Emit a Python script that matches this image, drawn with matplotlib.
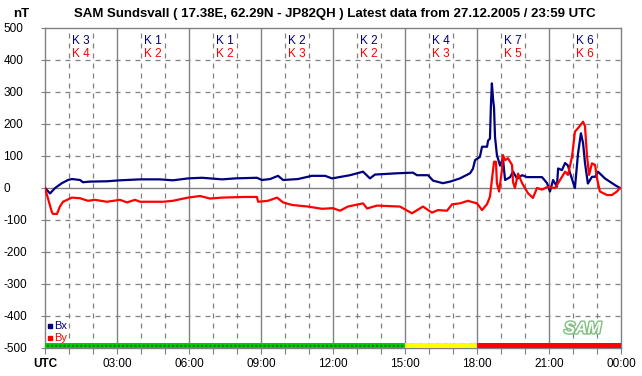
import matplotlib
matplotlib.use("Agg")
import matplotlib.pyplot as plt
import matplotlib.patheffects as pe
import numpy as np

plt.rcParams["font.family"] = "Liberation Sans"
plt.rcParams["axes.unicode_minus"] = False
plt.rcParams["hatch.linewidth"] = 1.0

# time in hours (UTC) and field values in nT
bx_t = [0.0, 0.21, 0.42, 0.70, 0.96, 1.12, 1.46, 1.58, 1.88, 2.58, 3.12, 3.96, 4.79, 5.33,
        5.96, 6.54, 7.38, 7.92, 8.83, 9.04, 9.38, 9.71, 9.92, 10.54, 11.12, 11.67, 11.96,
        12.71, 13.25, 13.54, 13.75, 14.67, 15.33, 15.5, 15.96, 16.17, 16.58, 16.88, 17.29,
        17.71, 17.83, 17.92, 18.12, 18.21, 18.42, 18.46, 18.54, 18.58, 18.62, 18.67, 18.71,
        18.75, 18.83, 18.96, 19.08, 19.17, 19.38, 19.5, 19.67, 19.88, 20.08, 20.71, 20.92,
        21.04, 21.17, 21.33, 21.38, 21.54, 21.67, 21.79, 21.88, 22.08, 22.21, 22.33, 22.42,
        22.5, 22.62, 22.79, 22.92, 23.04, 23.33, 23.75, 23.96]
bx_v = [0, -17, 0, 15, 25, 28, 25, 18, 20, 21, 24, 27, 27, 24,
        30, 32, 27, 30, 32, 25, 28, 38, 25, 28, 38, 38, 30,
        40, 51, 30, 42, 46, 48, 40, 40, 23, 15, 20, 30,
        46, 60, 87, 97, 129, 129, 148, 154, 259, 327, 277, 250,
        160, 103, 70, 93, 25, 34, 51, 29, 40, 34, 34, 15,
        -11, 25, 4, 61, 56, 78, 70, 46, 0, 108, 171, 140,
        78, 14, 35, 35, 51, 30, 9, 0]

by_t = [0.0, 0.28, 0.33, 0.5, 0.62, 0.75, 1.12, 1.46, 1.79, 2.08, 2.58, 3.12, 3.42, 3.75,
        3.96, 4.92, 5.33, 5.96, 6.46, 6.88, 7.38, 8.33, 8.83, 8.88, 9.29, 9.67, 9.92,
        10.29, 10.96, 11.54, 12.0, 12.29, 12.62, 13.25, 13.42, 13.83, 14.79, 15.29, 15.75,
        16.12, 16.38, 16.75, 16.96, 17.29, 17.62, 18.0, 18.21, 18.42, 18.54, 18.62, 18.71,
        18.79, 18.83, 18.92, 19.04, 19.08, 19.17, 19.29, 19.46, 19.5, 19.58, 19.71, 19.88,
        20.12, 20.33, 20.5, 20.71, 20.92, 21.25, 21.46, 21.67, 21.79, 21.96, 22.08, 22.21,
        22.42, 22.5, 22.58, 22.67, 22.79, 22.92, 23.0, 23.12, 23.42, 23.62, 23.83, 23.96]
by_v = [0, -74, -81, -81, -58, -43, -30, -32, -40, -37, -43, -37, -45, -37,
        -43, -43, -40, -30, -25, -33, -30, -28, -28, -43, -40, -30, -45,
        -53, -58, -65, -63, -71, -58, -48, -64, -55, -58, -79, -58,
        -77, -69, -71, -51, -48, -40, -48, -69, -50, -27, 25, 82,
        82, 15, -11, 56, 103, 87, 93, 72, 19, 0, 45, 15,
        -16, -31, 0, -5, 3, 0, 25, 51, 41, 98, 176, 187,
        207, 193, 103, 41, 77, 72, 30, -11, -22, -22, -11, 0]

# K indices per 3-hour interval
k_bx = [3, 1, 1, 2, 2, 4, 7, 6]
k_by = [4, 2, 2, 3, 2, 3, 5, 6]

# activity strip: (start hour, end hour, kind)
strip = [(0, 15, "green"), (15, 18, "yellow"), (18, 24, "red")]

fig = plt.figure(figsize=(6.42, 3.76), dpi=100)
ax = fig.add_axes([45 / 642, 28 / 376, 576 / 642, 320 / 376])

grey = "#808080"
for h in range(1, 24):
    if h % 3 == 0:
        ax.axvline(h, color=grey, lw=1.0, zorder=1)
    else:
        ax.axvline(h, color=grey, lw=0.9, ls=(0, (4, 4)), zorder=1)
for v in range(-400, 500, 100):
    if v == 0:
        ax.axhline(v, color=grey, lw=1.0, zorder=1)
    else:
        ax.axhline(v, color=grey, lw=0.9, ls=(0, (4, 4)), zorder=1)

ax.plot(bx_t, bx_v, color="#000080", lw=1.6, zorder=3)
ax.plot(by_t, by_v, color="#ff0000", lw=1.6, zorder=4)

for t0, t1, kind in strip:
    if kind == "green":
        ax.add_patch(plt.Rectangle((t0, -500), t1 - t0, 16, facecolor="#00cc00",
                                   edgecolor="#007000", hatch="....", lw=0, zorder=5))
    elif kind == "yellow":
        ax.add_patch(plt.Rectangle((t0, -500), t1 - t0, 16, facecolor="#ffff00",
                                   edgecolor="#ff0000", hatch="..", lw=0, zorder=5))
    else:
        ax.add_patch(plt.Rectangle((t0, -500), t1 - t0, 16, facecolor="#ff0000",
                                   lw=0, zorder=5))

for i in range(8):
    ax.text(i * 3 + 1.5, 460, "K %d" % k_bx[i], color="#000080", fontsize=8.5,
            ha="center", va="center", zorder=6)
    ax.text(i * 3 + 1.5, 420, "K %d" % k_by[i], color="#ff0000", fontsize=8.5,
            ha="center", va="center", zorder=6)

ax.set_xlim(0, 24)
ax.set_ylim(-500, 500)
ax.set_xticks(range(0, 25))
ax.set_xticklabels(["UTC" if h == 0 else ("%02d:00" % (h % 24) if h % 3 == 0 else "")
                    for h in range(25)])
ax.get_xticklabels()[0].set_fontweight("bold")
ax.set_yticks(range(-500, 501, 100))
ax.tick_params(axis="x", length=4, color=grey, labelsize=8.5, pad=3)
ax.tick_params(axis="y", length=3, color=grey, labelsize=8.5, pad=27)
for lab in ax.get_yticklabels():
    lab.set_horizontalalignment("left")
for s in ax.spines.values():
    s.set_color(grey)
    s.set_linewidth(1.0)

# legend squares
ax.plot([0.2], [-432], "s", color="#000080", ms=3, zorder=6)
ax.text(0.4, -432, "Bx", color="#000080", fontsize=8, va="center")
ax.plot([0.2], [-468], "s", color="#ff0000", ms=3, zorder=6)
ax.text(0.4, -468, "By", color="#ff0000", fontsize=8, va="center")

# logo
ax.text(22.4, -440, "SAM", fontsize=12, fontweight="bold", style="italic", color="white",
        ha="center", va="center", zorder=6,
        path_effects=[pe.withStroke(linewidth=2, foreground="#7fbf7f")])

fig.text(335 / 642, 1 - 14 / 376,
         "SAM Sundsvall ( 17.38E, 62.29N - JP82QH ) Latest data from 27.12.2005 / 23:59 UTC",
         ha="center", va="center", fontsize=9.5, fontweight="bold")
fig.text(21 / 642, 1 - 14 / 376, "nT", ha="center", va="center", fontsize=9.5,
         fontweight="bold")

fig.savefig("out.png", dpi=100, facecolor="white")
